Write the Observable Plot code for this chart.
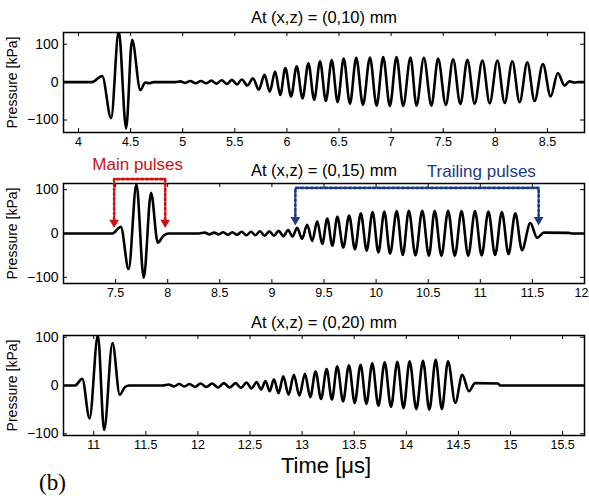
<!DOCTYPE html>
<html><head><meta charset="utf-8">
<script src="https://cdn.jsdelivr.net/npm/d3@7"></script>
<script src="https://cdn.jsdelivr.net/npm/@observablehq/plot@0.6"></script>
<style>
body{margin:0;background:#fff;}
#root{position:relative;width:589px;height:496px;overflow:hidden;background:#fff;font-family:"Liberation Sans",Arial,sans-serif;}
#root svg{position:absolute;left:0;}
.lbl{position:absolute;white-space:nowrap;color:#000;}
</style></head><body><div id="root"></div>
<script>
// ---- data: waveform extrema (time in µs, pressure in kPa) ----
const t10 = [3.856, 4.13, 4.227, 4.313, 4.386, 4.457, 4.514, 4.594, 4.64, 4.68, 4.72, 4.93, 4.977, 5.025, 5.073, 5.124, 5.175, 5.225, 5.275, 5.325, 5.375, 5.424, 5.472, 5.52, 5.568, 5.62, 5.675, 5.73, 5.785, 5.836, 5.887, 5.936, 5.985, 6.04, 6.094, 6.15, 6.206, 6.262, 6.318, 6.374, 6.43, 6.487, 6.545, 6.605, 6.665, 6.73, 6.797, 6.861, 6.924, 6.988, 7.052, 7.116, 7.186, 7.244, 7.314, 7.387, 7.451, 7.525, 7.595, 7.665, 7.732, 7.802, 7.876, 7.946, 8.02, 8.09, 8.163, 8.233, 8.307, 8.377, 8.457, 8.531, 8.6, 8.664, 8.712, 8.76, 8.8, 8.856];
const p10 = [0, 0, 16, -95, 135, -122, 112, -21, -1, -3, 0, 0, 2, -2, 3, -3, 3, -3, 4, -4, 5, -5, 6, -6, 7, -9, 10, -20, 19, -25, 28, -34, 37, -38, 42, -43, 50, -47, 55, -50, 58, -53, 62, -57, 64, -60, 65, -62, 66, -63, 66, -63, 65, -62, 64, -62, 62, -60, 60, -58, 59, -57, 57, -56, 57, -55, 55, -53, 52, -50, 48, -38, 24, -9, 2, -1, 0, 0];

const t15 = [7.0, 7.47, 7.55, 7.625, 7.70, 7.77, 7.84, 7.905, 7.96, 8.01, 8.30, 8.356, 8.40, 8.445, 8.49, 8.533, 8.577, 8.62, 8.665, 8.71, 8.755, 8.80, 8.842, 8.885, 8.93, 8.975, 9.02, 9.065, 9.11, 9.155, 9.198, 9.242, 9.29, 9.338, 9.387, 9.435, 9.483, 9.531, 9.58, 9.628, 9.685, 9.741, 9.797, 9.853, 9.91, 9.966, 10.022, 10.079, 10.134, 10.198, 10.256, 10.314, 10.378, 10.443, 10.507, 10.562, 10.627, 10.691, 10.755, 10.82, 10.884, 10.949, 11.013, 11.078, 11.142, 11.207, 11.271, 11.336, 11.4, 11.48, 11.545, 11.61, 11.85, 11.88, 12.0];
const p15 = [0, 0, 15, -81, 112, -101, 93, -21, -5, 0, 0, 2, -2, 2, -2, 3, -3, 3, -3, 4, -4, 4, -4, 5, -5, 5, -5, 6, -6, 8, -7, 13, -12, 20, -17, 28, -24, 34, -28, 38, -32, 41, -36, 46, -39, 49, -43, 50, -46, 51, -49, 52, -50, 52, -51, 52, -51, 52, -51, 51, -51, 51, -50, 50, -49, 49, -47, 46, -38, 24, -10, 2, 1.5, 0, 0];

const t20 = [10.71, 10.82, 10.89, 10.96, 11.04, 11.10, 11.18, 11.25, 11.30, 11.34, 11.66, 11.72, 11.77, 11.82, 11.87, 11.92, 11.972, 12.025, 12.08, 12.137, 12.193, 12.249, 12.305, 12.361, 12.413, 12.466, 12.515, 12.563, 12.606, 12.649, 12.689, 12.729, 12.774, 12.819, 12.87, 12.921, 12.974, 13.027, 13.078, 13.129, 13.182, 13.235, 13.286, 13.337, 13.393, 13.449, 13.505, 13.561, 13.617, 13.673, 13.732, 13.792, 13.853, 13.914, 13.973, 14.032, 14.096, 14.16, 14.221, 14.282, 14.341, 14.4, 14.47, 14.537, 14.601, 14.66, 14.88, 14.90, 15.71];
const p20 = [0, 0, 14, -68, 104, -92, 88, -19, -3, 0, 0, 2, -2, 3, -2, 3, -3, 4, -3, 4, -4, 5, -4, 5, -5, 6, -6, 7, -8, 9, -12, 13, -16, 19, -19, 22, -21, 24, -24, 29, -28, 34, -29, 40, -33, 42, -36, 43, -38, 46, -42, 48, -44, 49, -47, 50, -49, 51, -50, 53, -49, 50, -36, 22, -12, 5, 4, 0, 0];

// ---- tick labels / domains ----
const xTicks10 = [4, 4.5, 5, 5.5, 6, 6.5, 7, 7.5, 8, 8.5];
const xTicks15 = [7.5, 8, 8.5, 9, 9.5, 10, 10.5, 11, 11.5, 12];
const xTicks20 = [11, 11.5, 12, 12.5, 13, 13.5, 14, 14.5, 15, 15.5];
const yTicks = [-100, 0, 100];
const xDomain10 = [3.856, 8.856], xDomain15 = [7.0, 12.0], xDomain20 = [10.71, 15.71];
const yDomain10 = [-133, 131], yDomain15 = [-114, 114], yDomain20 = [-103.5, 103.5];
const titles = ["At (x,z) = (0,10) mm", "At (x,z) = (0,15) mm", "At (x,z) = (0,20) mm"];
const yLabel = "Pressure [kPa]";
const xLabel = "Time [μs]";
const panelTag = "(b)";

// ---- annotations on the (0,15) panel (time µs, pressure kPa) ----
const mainLabel = "Main pulses", trailLabel = "Trailing pulses";
const mainArrowT = [7.486, 7.976];
const trailArrowT = [9.225, 11.56];
const mainBracketP = 124, mainStemP = 32, mainHeadP = 25, mainTextT = 7.712, mainTextP = 158;
const trailBracketP = 104, trailStemP = 40, trailHeadP = 31, trailTextT = 11.01, trailTextP = 142;

const FONT = '"Liberation Sans", Arial, sans-serif';
const RED = "#d01010", NAVY = "#1b3a85";

function panel({t, p, xDomain, yDomain, xTicks, title, titleDy, top, height, mt, mb, extra = []}) {
  const data = t.map((x, i) => ({t: x, p: p[i]}));
  const ml = 63, mr = 5, W = 589;
  const innerH = height - mt - mb, innerW = W - ml - mr;
  const edge = xTicks.filter(d => d >= xDomain[1]);
  const inner = xTicks.filter(d => d < xDomain[1]);
  const svg = Plot.plot({
    width: W, height, marginLeft: ml, marginRight: mr, marginTop: mt, marginBottom: mb,
    x: {domain: xDomain},
    y: {domain: yDomain},
    style: {fontFamily: FONT, fontSize: "12.5px", color: "#000", background: "transparent", overflow: "visible"},
    marks: [
      Plot.line(data, {x: "t", y: "p", curve: "monotone-x", stroke: "#000", strokeWidth: 2.6, clip: true}),
      Plot.ruleX(xTicks, {x: d => d, insetBottom: innerH - 4, stroke: "#000", strokeWidth: 1}),
      Plot.ruleX(xTicks, {x: d => d, insetTop: innerH - 4, stroke: "#000", strokeWidth: 1}),
      Plot.ruleY(yTicks, {y: d => d, insetRight: innerW - 4, stroke: "#000", strokeWidth: 1}),
      Plot.ruleY(yTicks, {y: d => d, insetLeft: innerW - 4, stroke: "#000", strokeWidth: 1}),
      Plot.frame({stroke: "#000", strokeWidth: 1.5}),
      Plot.axisX({ticks: inner, tickSize: 0, tickPadding: 5, tickFormat: d => String(d), label: null}),
      edge.length ? Plot.axisX({ticks: edge, tickSize: 0, tickPadding: 5, tickFormat: d => String(d), label: null, textAnchor: "end", dx: 4}) : null,
      Plot.axisY({ticks: yTicks, tickSize: 0, tickPadding: 5, label: yLabel, labelAnchor: "center", labelArrow: false, labelOffset: 56, fontSize: 14}),
      Plot.text([title], {frameAnchor: "top", dy: titleDy, lineAnchor: "middle", fontSize: 16.5}),
      ...extra
    ]
  });
  svg.style.top = top + "px";
  return svg;
}

function bracket(ts, level, stem, head, color) {
  const pts = [{t: ts[0], p: stem}, {t: ts[0], p: level}, {t: ts[1], p: level}, {t: ts[1], p: stem}];
  return [
    Plot.line(pts, {x: "t", y: "p", stroke: color, strokeWidth: 2.6, strokeDasharray: "2.4,2.4", clip: false}),
    Plot.dot(ts, {x: d => d, y: () => head, symbol: "triangle2", rotate: 180, r: 4.6, fill: color, stroke: "none"})
  ];
}

const root = document.getElementById("root");
root.appendChild(panel({t: t10, p: p10, xDomain: xDomain10, yDomain: yDomain10, xTicks: xTicks10, title: titles[0], titleDy: -15, top: 0, height: 155, mt: 32, mb: 23}));
root.appendChild(panel({t: t15, p: p15, xDomain: xDomain15, yDomain: yDomain15, xTicks: xTicks15, title: titles[1], titleDy: -13, top: 150, height: 157, mt: 33, mb: 24,
  extra: [
    ...bracket(mainArrowT, mainBracketP, mainStemP, mainHeadP, RED),
    ...bracket(trailArrowT, trailBracketP, trailStemP, trailHeadP, NAVY),
    Plot.text([mainLabel], {x: () => mainTextT, y: () => mainTextP, fill: RED, fontSize: 17, lineAnchor: "middle"}),
    Plot.text([trailLabel], {x: () => trailTextT, y: () => trailTextP, fill: NAVY, fontSize: 17, lineAnchor: "middle"})
  ]}));
root.appendChild(panel({t: t20, p: p20, xDomain: xDomain20, yDomain: yDomain20, xTicks: xTicks20, title: titles[2], titleDy: -13, top: 307, height: 152, mt: 28, mb: 24}));

const xl = document.createElement("div");
xl.className = "lbl"; xl.textContent = xLabel;
xl.style.cssText += "left:0;width:652px;text-align:center;top:454px;font-size:22px;line-height:24px;";
root.appendChild(xl);
const tag = document.createElement("div");
tag.className = "lbl"; tag.textContent = panelTag;
tag.style.cssText += 'left:39px;top:470px;font-size:23px;line-height:25px;font-family:"Liberation Serif","Times New Roman",serif;';
root.appendChild(tag);
</script></body></html>
